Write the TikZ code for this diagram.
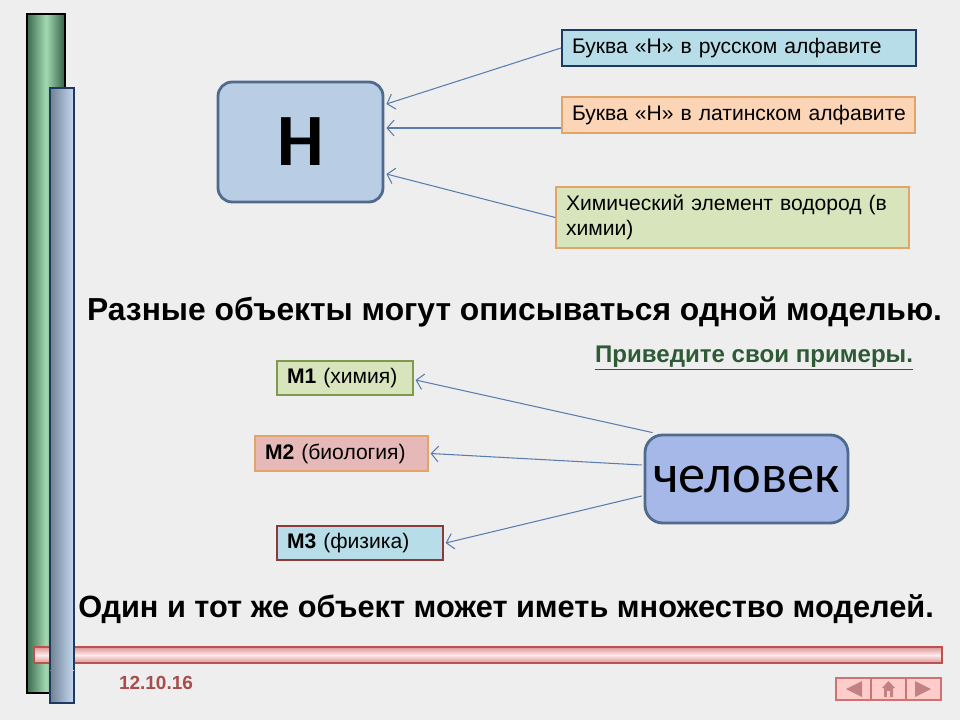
\documentclass[tikz,border=0pt]{standalone}
\usepackage{fontspec}
\setmainfont{Liberation Sans}
\newfontfamily\calfont{Carlito}
\usepackage{tikz}
\usetikzlibrary{arrows.meta,shapes,positioning,calc}

\definecolor{bgcol}{HTML}{EEEEEE}
\definecolor{hfill}{HTML}{B9CDE5}
\definecolor{hdraw}{HTML}{4F6A8C}
\definecolor{linecol}{HTML}{5A7DAE}
\definecolor{bluefill}{HTML}{B7DEE8}
\definecolor{bluedraw}{HTML}{1F3A60}
\definecolor{peachfill}{HTML}{FBD5B5}
\definecolor{peachdraw}{HTML}{E3A46A}
\definecolor{greenfill}{HTML}{D8E4BC}
\definecolor{greendraw}{HTML}{7E9A4C}
\definecolor{pinkfill}{HTML}{E6B9B8}
\definecolor{m3draw}{HTML}{8C3A3A}
\definecolor{askcol}{HTML}{2E5A36}
\definecolor{datecol}{HTML}{A84C4C}
\definecolor{barred}{HTML}{C0504D}
\definecolor{greenedge}{HTML}{3A6A4E}
\definecolor{greenmid}{HTML}{A3D9B1}
\definecolor{bluebarl}{HTML}{6F8194}
\definecolor{bluebarr}{HTML}{C6DAF2}

\tikzset{
  bigbox/.style={draw=hdraw, line width=1.6pt, fill=hfill, rounded corners=8pt},
  infobox/.style={line width=0.8pt, align=left, inner sep=0pt, font=\fontsize{12pt}{14.5pt}\selectfont},
  modelbox/.style={line width=0.7pt, align=left, inner sep=0pt, font=\fontsize{12pt}{14pt}\selectfont},
  link/.style={draw=linecol, line width=0.6pt, -{Straight Barb[length=4pt,width=9pt]}},
  headline/.style={font=\bfseries\fontsize{#1}{21pt}\selectfont},
  bluebar/.style={left color=bluebarl, right color=bluebarr}
}

\begin{document}
\begin{tikzpicture}[x=0.02cm, y=-0.02cm]

% background
\fill[bgcol] (0,0) rectangle (960,720);
\useasboundingbox (0,0) rectangle (960,720);

% side bars
\shade[left color=greenedge, right color=greenedge!90!black, middle color=greenmid] (27,14) rectangle (65,693);
\draw[black, line width=0.8pt] (27,14) rectangle (65,693);
\shade[bluebar] (50,88) rectangle (74,703);
\draw[bluedraw, line width=0.8pt] (50,88) rectangle (74,703);

% bottom bar
\shade[top color=barred!60, bottom color=barred!60, middle color=red!8!white] (34,647) rectangle (942,663);
\draw[barred, line width=1pt] (34,647) rectangle (942,663);
\shade[bluebar] (50,640) rectangle (74,670);
\draw[bluedraw, line width=0.8pt] (50,640) -- (50,670) (74,640) -- (74,670);

% top part
\node[bigbox, minimum width=3.3cm, minimum height=2.4cm, font=\calfont\bfseries\fontsize{42pt}{42pt}\selectfont] (letterH) at (300.5,142) {H};

\node[infobox, draw=bluedraw, fill=bluefill, line width=1.2pt, minimum width=7.08cm, minimum height=0.72cm, text width=6.68cm] (rusbox) at (739,48) {Буква «Н» в русском алфавите};
\node[infobox, draw=peachdraw, fill=peachfill, minimum width=7.06cm, minimum height=0.72cm, text width=6.66cm] (latbox) at (738.5,115) {\mbox{Буква «Н» в латинском алфавите}};
\node[infobox, draw=peachdraw, fill=greenfill, minimum width=7.06cm, minimum height=1.22cm, text width=6.66cm] (chembox) at (732.5,217.5) {Химический элемент водород (в\\химии)};

\draw[link] (rusbox.west) -- ($(letterH.east)+(2,-38)$);
\draw[link] ($(latbox.west)+(0,13)$) -- ($(letterH.east)+(2,-14)$);
\draw[link] (chembox.west) -- ($(letterH.east)+(2,32)$);

\node[headline=18.1pt] (phrase1) at (514.5,312) {Разные объекты могут описываться одной моделью.};
\node[font=\bfseries\fontsize{13.7pt}{16pt}\selectfont, text=askcol] (askme) at (754,358) {\underline{Приведите свои примеры.}};

% bottom part
\node[draw=hdraw, line width=1.6pt, fill=hfill!90!blue, rounded corners=10pt, minimum width=4.06cm, minimum height=1.76cm, font=\calfont\fontsize{31pt}{31pt}\selectfont] (human) at (746.5,479) {человек};

\node[modelbox, draw=greendraw, fill=greenfill, minimum width=2.72cm, minimum height=0.68cm, text width=2.32cm] (mone) at (345,378) {\textbf{M1} (химия)};
\node[modelbox, draw=peachdraw, fill=pinkfill, minimum width=3.46cm, minimum height=0.7cm, text width=3.06cm] (mtwo) at (341.5,453.5) {\textbf{M2} (биология)};
\node[modelbox, draw=m3draw, fill=bluefill, minimum width=3.32cm, minimum height=0.68cm, text width=2.92cm] (mthree) at (360,543) {\textbf{M3} (физика)};

\draw[link] ($(human.north west)+(9,-1)$) -- ($(mone.east)+(2,2)$);
\draw[link] ($(human.west)+(-2,-14)$) -- ($(mtwo.east)+(2,0)$);
\draw[link] ($(human.west)+(-2,17)$) -- ($(mthree.east)+(2,0)$);

\node[headline=17.5pt] (phrase2) at (506,609) {Один и тот же объект может иметь множество моделей.};

% footer
\node[font=\bfseries\fontsize{10.8pt}{12pt}\selectfont, text=datecol] (date) at (156,683) {12.10.16};

\foreach \bx in {836,871,906} {
  \draw[barred!80, fill=red!20!white, line width=0.8pt] (\bx,678) rectangle ++(35,22);
}
\fill[datecol!70] (846,689) -- (862,681) -- (862,697) -- cycle;
\fill[datecol!70] (931,689) -- (915,681) -- (915,697) -- cycle;
\fill[datecol!70] (882,688) -- (888.5,681) -- (895,688) -- (893,688) -- (893,697) -- (884,697) -- (884,688) -- cycle;
\fill[red!20!white] (887,691) rectangle (890,697);

\end{tikzpicture}
\end{document}
